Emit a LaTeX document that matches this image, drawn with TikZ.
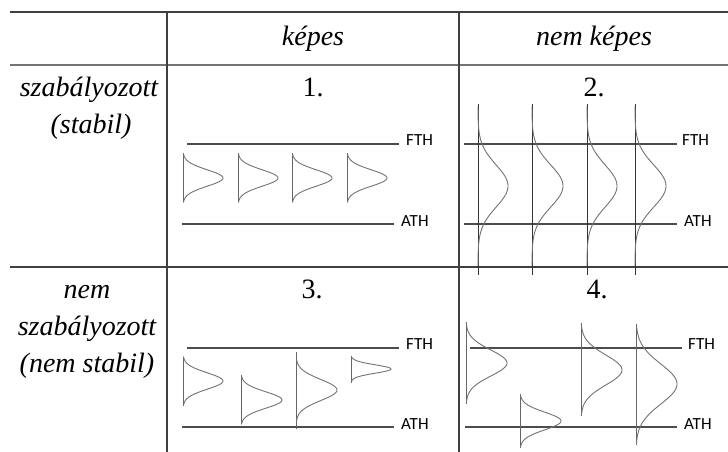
\documentclass[tikz,border=0pt]{standalone}
\usepackage{fontspec}
\setmainfont{Liberation Serif}
\newfontfamily\labfont{Carlito}
\begin{document}
\begin{tikzpicture}[x=1pt,y=-1pt,
  tline/.style={draw=black!75,line width=1.1pt},
  hline/.style={draw=black!55,line width=1.6pt},
  thr/.style={draw=black!70,line width=1.1pt},
  basel/.style={draw=black!60,line width=0.9pt},
  curvel/.style={draw=black!55,line width=0.9pt},
  big/.style={font=\fontsize{28}{30}\selectfont,inner sep=0pt},
  bigit/.style={font=\fontsize{28}{30}\selectfont\itshape,inner sep=0pt},
  lab/.style={font=\fontsize{17}{18}\selectfont\labfont,inner sep=0pt,anchor=base west}]
\useasboundingbox (0,0) rectangle (728,452);
\fill[white] (0,0) rectangle (728,452);
\newcommand\bellcurve[7]{%
  \draw[basel] (#1,#2) -- (#1,#3);
  \draw[curvel] plot[domain=-#7:#7,samples=90,smooth]
     ({#1+#6*exp(-0.5*(\x*\x)/(#5*#5))},{#4+\x});
}
% table grid
\coordinate (tl) at (10,12);  \coordinate (tr) at (728,12);
\coordinate (hl) at (10,65);  \coordinate (hr) at (728,65);
\coordinate (rl) at (10,267); \coordinate (rr) at (728,267);
\coordinate (v1t) at (167,12); \coordinate (v1b) at (167,452);
\coordinate (v2t) at (459,12); \coordinate (v2b) at (459,452);
\draw[tline] (tl) -- (tr);
\draw[hline] (hl) -- (hr);
\draw[tline] (rl) -- (rr);
\draw[tline] (v1t) -- (v1b);
\draw[tline] (v2t) -- (v2b);
% headers
\node[bigit,anchor=base] (h1) at (313,46) {képes};
\node[bigit,anchor=base] (h2) at (594,46) {nem képes};
\node[bigit,anchor=base] (r1a) at (89,96) {szabályozott};
\node[bigit,anchor=base] (r1b) at (91,133) {(stabil)};
\node[bigit,anchor=base] (r2a) at (87,298) {nem};
\node[bigit,anchor=base] (r2b) at (87,335) {szabályozott};
\node[bigit,anchor=base] (r2c) at (87,372) {(nem stabil)};
\node[big,anchor=base] (n1) at (313,96) {1.};
\node[big,anchor=base] (n2) at (594,96) {2.};
\node[big,anchor=base] (n3) at (312,298) {3.};
\node[big,anchor=base] (n4) at (597,298) {4.};
% cell 1
\coordinate (f1a) at (187,144); \coordinate (f1b) at (399,144);
\coordinate (a1a) at (182,224); \coordinate (a1b) at (394,224);
\draw[thr] (f1a) -- (f1b); \draw[thr] (a1a) -- (a1b);
\node[lab] (F1) at (406,145) {FTH};
\node[lab] (A1) at (401,226) {ATH};
\bellcurve{183}{153}{202}{178}{8.2}{40}{24.5}
\bellcurve{238}{153}{202}{178}{8.2}{40}{24.5}
\bellcurve{292}{153}{202}{178}{8.2}{40}{24.5}
\bellcurve{347}{153}{202}{178}{8.2}{40}{24.5}
% cell 2
\coordinate (f2a) at (464,144); \coordinate (f2b) at (677,144);
\coordinate (a2a) at (464,224); \coordinate (a2b) at (677,224);
\draw[thr] (f2a) -- (f2b); \draw[thr] (a2a) -- (a2b);
\node[lab] (F2) at (682,145) {FTH};
\node[lab] (A2) at (684,226) {ATH};
\begin{scope}[basel/.style={draw=black!80,line width=1pt}]
\bellcurve{478}{104}{275}{186}{21}{30}{80}
\bellcurve{532}{104}{275}{186}{21}{31}{80}
\bellcurve{587}{104}{275}{186}{21}{30}{80}
\bellcurve{635}{104}{275}{186}{21}{31}{80}
\end{scope}
% cell 3
\coordinate (f3a) at (187,348); \coordinate (f3b) at (399,348);
\coordinate (a3a) at (182,427); \coordinate (a3b) at (394,427);
\draw[thr] (f3a) -- (f3b); \draw[thr] (a3a) -- (a3b);
\node[lab] (F3) at (406,349) {FTH};
\node[lab] (A3) at (401,429) {ATH};
\bellcurve{183}{357}{406}{381}{8.2}{40}{24.5}
\bellcurve{241}{375}{424}{400}{8.2}{41}{24.5}
\bellcurve{296}{352}{429}{390}{10.5}{41}{31}
\bellcurve{351}{357}{383}{369}{4.2}{40}{13}
% cell 4
\coordinate (f4a) at (470,348); \coordinate (f4b) at (682,348);
\coordinate (a4a) at (465,427); \coordinate (a4b) at (677,427);
\draw[thr] (f4a) -- (f4b); \draw[thr] (a4a) -- (a4b);
\node[lab] (F4) at (688,349) {FTH};
\node[lab] (A4) at (684,429) {ATH};
\bellcurve{466}{322}{404}{363}{13}{41}{41}
\bellcurve{520}{394}{448}{421}{8.8}{41}{27}
\bellcurve{581}{323}{416}{370}{15}{41}{46}
\bellcurve{636}{324}{445}{384}{20}{41}{60}
\end{tikzpicture}
\end{document}
